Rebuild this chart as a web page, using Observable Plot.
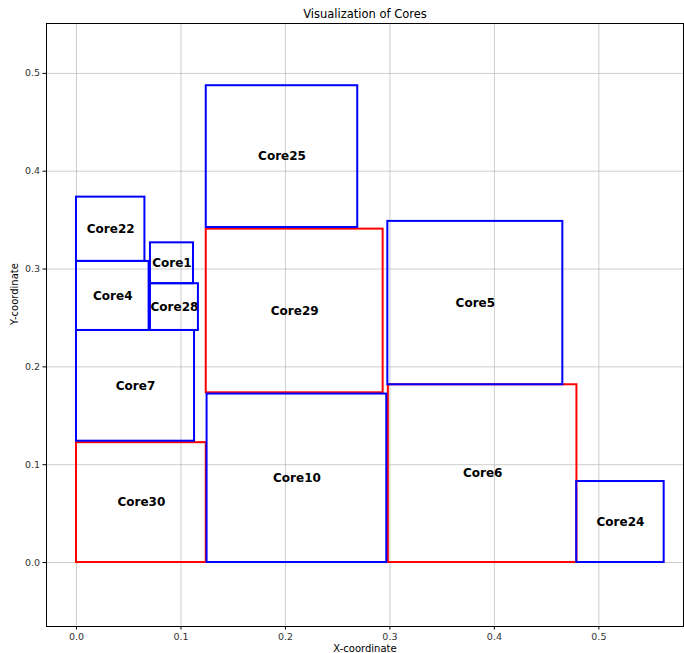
<!DOCTYPE html>
<html>
<head>
<meta charset="utf-8">
<script src="https://cdn.jsdelivr.net/npm/d3@7"></script>
<script src="https://cdn.jsdelivr.net/npm/@observablehq/plot@0.6"></script>
<style>
  html, body { margin: 0; padding: 0; background: #fff; }
  #chart svg { display: block; }
</style>
</head>
<body>
<div id="chart"></div>
<script>
const names = ["Core30", "Core7", "Core4", "Core22", "Core1", "Core28", "Core25", "Core29", "Core10", "Core5", "Core6", "Core24"];
const x1s   = [0.0,    0.0,    0.0,    0.0,    0.0708, 0.0708, 0.1242, 0.1242, 0.1250, 0.2980, 0.2985, 0.4788];
const x2s   = [0.1242, 0.1130, 0.0695, 0.0655, 0.1120, 0.1167, 0.2692, 0.2935, 0.2970, 0.4655, 0.4790, 0.5625];
const y1s   = [0.0,    0.1240, 0.2372, 0.3078, 0.2850, 0.2372, 0.3425, 0.1735, 0.0,    0.1817, 0.0,    0.0];
const y2s   = [0.1225, 0.2372, 0.3078, 0.3735, 0.3268, 0.2850, 0.4874, 0.3408, 0.1722, 0.3487, 0.1817, 0.0828];
const kinds = ["red", "blue", "blue", "blue", "blue", "blue", "blue", "red", "blue", "blue", "red", "blue"];
const ticks = [0.0, 0.1, 0.2, 0.3, 0.4, 0.5];

const cores = names.map((name, i) => ({
  name, x1: x1s[i], x2: x2s[i], y1: y1s[i], y2: y2s[i], kind: kinds[i],
  cx: (x1s[i] + x2s[i]) / 2, cy: (y1s[i] + y2s[i]) / 2
}));
const redCores = cores.filter(d => d.kind === "red");
const blueCores = cores.filter(d => d.kind === "blue");

const font = "DejaVu Sans, sans-serif";
const fmt = d3.format(".1f");
const rectOpts = { x1: "x1", x2: "x2", y1: "y1", y2: "y2", fill: "none", stroke: "kind", strokeWidth: 2 };

const chart = Plot.plot({
  width: 684,
  height: 653,
  marginLeft: 46,
  marginRight: 1,
  marginTop: 23,
  marginBottom: 27,
  style: { fontFamily: font, background: "#fff", color: "#000" },
  x: { domain: [-0.0287, 0.581], ticks: ticks, tickFormat: fmt },
  y: { domain: [-0.0654, 0.551], ticks: ticks, tickFormat: fmt },
  color: { domain: ["red", "blue"], range: ["#ff0000", "#0000ff"] },
  marks: [
    Plot.gridX(ticks, { stroke: "#b0b0b0", strokeOpacity: 0.8, strokeWidth: 0.8 }),
    Plot.gridY(ticks, { stroke: "#b0b0b0", strokeOpacity: 0.8, strokeWidth: 0.8 }),
    Plot.rect(redCores, rectOpts),
    Plot.rect(blueCores, rectOpts),
    Plot.text(cores, { x: "cx", y: "cy", text: "name", fontWeight: "bold", fontSize: 12, fill: "#000" }),
    Plot.frame({ stroke: "#000", strokeWidth: 1 }),
    Plot.axisX(ticks, { tickFormat: fmt, tickSize: 3.5, tickPadding: 3, fontSize: 9.5, label: null, stroke: "#000", fill: "#333" }),
    Plot.axisY(ticks, { tickFormat: fmt, tickSize: 3.5, tickPadding: 3, fontSize: 9.5, label: null, stroke: "#000", fill: "#333" }),
    Plot.text(["Visualization of Cores"], { frameAnchor: "top", lineAnchor: "middle", dy: -9, fontSize: 11.5, fill: "#000" }),
    Plot.text(["X-coordinate"], { frameAnchor: "bottom", lineAnchor: "middle", dy: 22, fontSize: 10, fill: "#000" }),
    Plot.text(["Y-coordinate"], { frameAnchor: "left", dx: -32, rotate: -90, fontSize: 10, fill: "#000" })
  ]
});
document.getElementById("chart").appendChild(chart);
</script>
</body>
</html>
